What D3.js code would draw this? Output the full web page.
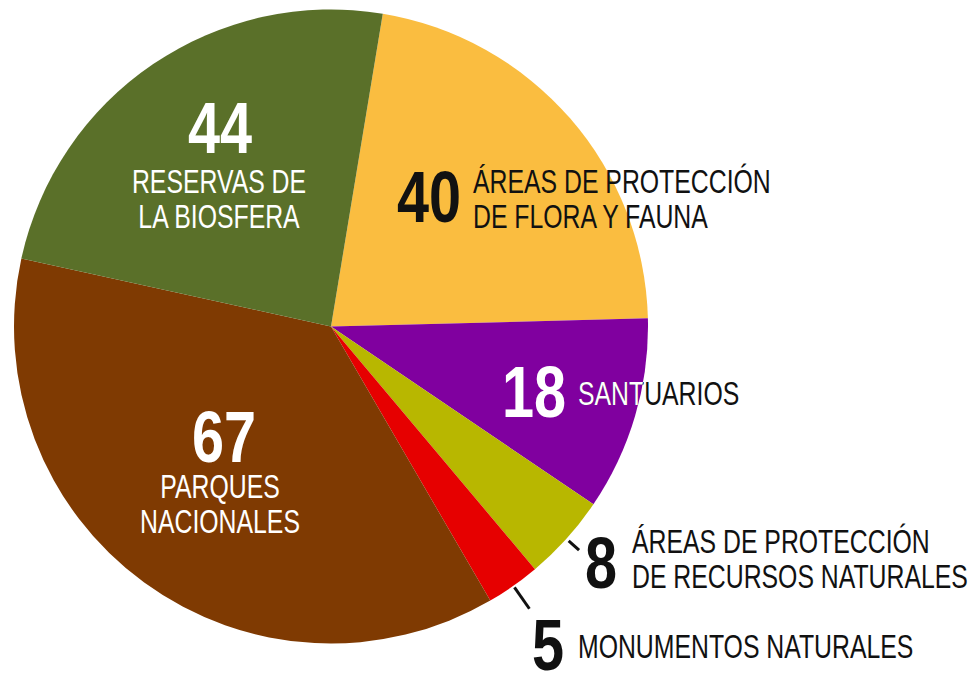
<!DOCTYPE html>
<html>
<head>
<meta charset="utf-8">
<script src="https://cdn.jsdelivr.net/npm/d3@7"></script>
<style>
  html, body { margin: 0; padding: 0; background: #ffffff; }
  svg { display: block; }
</style>
</head>
<body>
<div id="chart"></div>
<script>
// ---------- DATA ----------
const categories = [
  "ÁREAS DE PROTECCIÓN DE FLORA Y FAUNA",
  "SANTUARIOS",
  "ÁREAS DE PROTECCIÓN DE RECURSOS NATURALES",
  "MONUMENTOS NATURALES",
  "PARQUES NACIONALES",
  "RESERVAS DE LA BIOSFERA"
];
const values = [40, 18, 8, 5, 67, 44];
const labelLines = [
  ["ÁREAS DE PROTECCIÓN", "DE FLORA Y FAUNA"],
  ["SANTUARIOS"],
  ["ÁREAS DE PROTECCIÓN", "DE RECURSOS NATURALES"],
  ["MONUMENTOS NATURALES"],
  ["PARQUES", "NACIONALES"],
  ["RESERVAS DE", "LA BIOSFERA"]
];
const colors = ["#fabd40", "#80009f", "#b8b700", "#e60000", "#7f3a02", "#5a7029"];

// ---------- LAYOUT ----------
const W = 973, H = 675;
const cx = 331, cy = 326.5, R = 317;
const startDeg = 9.4;
const labelFont = "'Liberation Sans', Arial, sans-serif";
const labelSize = 34, labelScale = 0.73, lineGap = 35;
const numSize = 72, numScale = 0.8;

// per-slice label placement: mode "side" (number left, text to its right) or "stack"
const layout = [
  { mode: "side",  nx: 397, ny: 222, lx: 473, ly: 193, numColor: "#111", txtColor: "#111" },
  { mode: "side",  nx: 502, ny: 417, lx: 578, ly: 405, numColor: "#fff", txtColor: "#111", clipWhite: true },
  { mode: "side",  nx: 585, ny: 588, lx: 632, ly: 553, numColor: "#111", txtColor: "#111", leader: [320, 334] },
  { mode: "side",  nx: 532, ny: 670, lx: 578, ly: 658, numColor: "#111", txtColor: "#111", leader: [319, 345] },
  { mode: "stack", nx: 224, ny: 462, lx: 220, ly: 498, numColor: "#fff", txtColor: "#fff" },
  { mode: "stack", nx: 220, ny: 153, lx: 219, ly: 193, numColor: "#fff", txtColor: "#fff" }
];

const svg = d3.select("#chart").append("svg")
  .attr("width", W).attr("height", H);

const rad = startDeg * Math.PI / 180;
const pie = d3.pie().sort(null).value(d => d)
  .startAngle(rad).endAngle(rad + 2 * Math.PI);
const arcs = pie(values);
const arc = d3.arc().innerRadius(0).outerRadius(R);

const g = svg.append("g").attr("transform", `translate(${cx},${cy})`);
g.selectAll("path.slice").data(arcs).enter().append("path")
  .attr("class", "slice")
  .attr("d", arc)
  .attr("fill", (d, i) => colors[i]);

// clip paths (in svg coords) for text that changes colour across slice edge
const defs = svg.append("defs");
arcs.forEach((a, i) => {
  defs.append("clipPath").attr("id", "clip" + i)
    .append("path")
    .attr("transform", `translate(${cx},${cy})`)
    .attr("d", arc(a));
});

// leader lines
arcs.forEach((a, i) => {
  const L = layout[i];
  if (!L.leader) return;
  const m = (a.startAngle + a.endAngle) / 2;
  const [r0, r1] = L.leader;
  svg.append("line")
    .attr("x1", cx + r0 * Math.sin(m)).attr("y1", cy - r0 * Math.cos(m))
    .attr("x2", cx + r1 * Math.sin(m)).attr("y2", cy - r1 * Math.cos(m))
    .attr("stroke", "#111").attr("stroke-width", 3);
});

function addText(parent, x, y, txt, anchor, color, size, scale, weight) {
  return parent.append("text")
    .attr("transform", `translate(${x},${y}) scale(${scale},1)`)
    .attr("text-anchor", anchor)
    .attr("font-family", labelFont)
    .attr("font-weight", weight)
    .attr("font-size", size)
    .attr("fill", color)
    .text(txt);
}

arcs.forEach((a, i) => {
  const L = layout[i];
  const anchor = L.mode === "stack" ? "middle" : "start";
  addText(svg, L.nx, L.ny, values[i], anchor, L.numColor, numSize, numScale, "bold");
  labelLines[i].forEach((line, k) => {
    const y = L.ly + k * lineGap;
    addText(svg, L.lx, y, line, anchor, L.txtColor, labelSize, labelScale, "normal");
    if (L.clipWhite) {
      const cg = svg.append("g").attr("clip-path", `url(#clip${i})`);
      addText(cg, L.lx, y, line, anchor, "#fff", labelSize, labelScale, "normal");
    }
  });
});
</script>
</body>
</html>
